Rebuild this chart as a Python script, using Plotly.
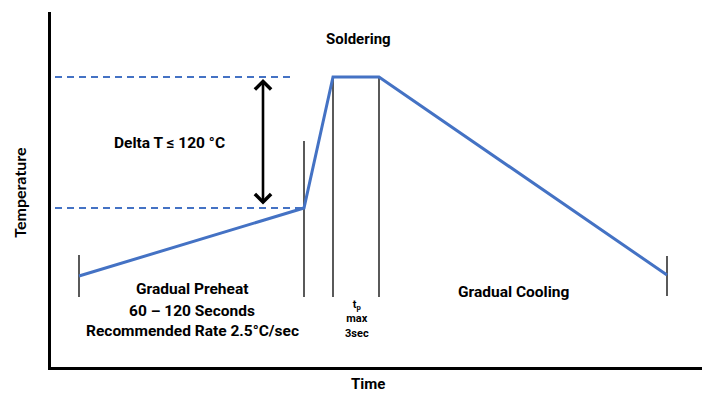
import plotly.graph_objects as go

# Reflow soldering temperature profile (arbitrary time / temperature units)
time = [28, 253, 282, 328, 616]
temp = [91, 159, 290, 290, 92]

# Phase boundary markers: (time, lower temp, upper temp)
marker_time = [28, 253, 282, 328, 616]
marker_low = [70, 70, 70, 70, 71]
marker_high = [112, 226, 290, 290, 111]

# Reference levels for the preheat / peak temperatures
preheat_level = 159
peak_level = 290
dash_start = 4
peak_dash_end = 242
preheat_dash_end = 253
arrow_time = 212

BLUE = "#4472C4"
FONT = "Roboto"

fig = go.Figure()

# dashed reference levels
fig.add_trace(go.Scatter(x=[dash_start, peak_dash_end], y=[peak_level, peak_level],
                         mode="lines", line=dict(color=BLUE, width=2, dash="7px,5px"),
                         hoverinfo="skip"))
fig.add_trace(go.Scatter(x=[dash_start, preheat_dash_end], y=[preheat_level, preheat_level],
                         mode="lines", line=dict(color=BLUE, width=2, dash="7px,5px"),
                         hoverinfo="skip"))

# phase markers
for t, lo, hi in zip(marker_time, marker_low, marker_high):
    fig.add_trace(go.Scatter(x=[t, t], y=[lo, hi], mode="lines",
                             line=dict(color="black", width=1.3), hoverinfo="skip"))

# temperature profile
fig.add_trace(go.Scatter(x=time, y=temp, mode="lines",
                         line=dict(color=BLUE, width=3)))

# Delta T double arrow
fig.add_annotation(x=arrow_time, y=peak_level - 2, ax=arrow_time, ay=preheat_level + 2,
                   xref="x", yref="y", axref="x", ayref="y", text="",
                   showarrow=True, arrowhead=4, startarrowhead=4, arrowside="end+start",
                   arrowsize=1.2, startarrowsize=1.2, arrowwidth=2.6, arrowcolor="black",
                   standoff=0, startstandoff=0)

def label(x, y, text, size=15.5, ref="", family=FONT, **kw):
    fig.add_annotation(x=x, y=y, xref=ref or "x", yref=ref or "y", text=text, showarrow=False,
                       xanchor="center", yanchor="middle",
                       font=dict(family=family, size=size, color="black", weight="bold"), **kw)

label(307, 328, "Soldering", size=15)
label(118, 224, "Delta T ≤ 120 °C")
label(141, 78, "Gradual Preheat")
label(141, 56, "60 – 120 Seconds")
label(141, 36, "Recommended Rate 2.5°C/sec")
label(462, 75, "Gradual Cooling")
label(306, 48, "t<sub>p</sub><br>max<br>3sec", size=11)

# axis titles, placed in paper coordinates outside the plot area
label(0.487, -0.048, "Time", size=15, ref="paper")
label(-0.048, 0.493, "Temperature", size=16, ref="paper", family="Lato", textangle=-90)

fig.update_layout(
    width=702, height=394,
    margin=dict(l=51, r=0, t=12, b=27),
    paper_bgcolor="white", plot_bgcolor="white",
    showlegend=False,
    xaxis=dict(range=[0, 651], showgrid=False, zeroline=False, showticklabels=False,
               ticks="", showline=True, linecolor="black", linewidth=3, fixedrange=True),
    yaxis=dict(range=[0, 355], showgrid=False, zeroline=False, showticklabels=False,
               ticks="", showline=True, linecolor="black", linewidth=3, fixedrange=True),
)

fig.write_html("out.html")
